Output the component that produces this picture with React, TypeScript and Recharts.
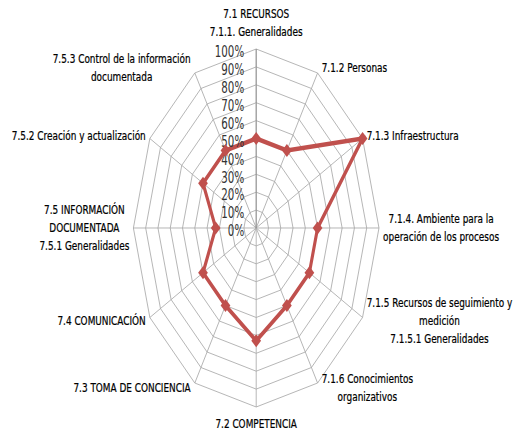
import { RadarChart, PolarGrid, PolarAngleAxis, PolarRadiusAxis, Radar } from "recharts";

// categories (line breaks as in the original labels)
const categories = [
  "7.1 RECURSOS\n7.1.1. Generalidades",
  "7.1.2 Personas",
  "7.1.3 Infraestructura",
  "7.1.4. Ambiente para la\noperación de los procesos",
  "7.1.5 Recursos de seguimiento y\nmedición\n7.1.5.1 Generalidades",
  "7.1.6 Conocimientos\norganizativos",
  "7.2 COMPETENCIA",
  "7.3 TOMA DE CONCIENCIA",
  "7.4 COMUNICACIÓN",
  "7.5 INFORMACIÓN\nDOCUMENTADA\n7.5.1 Generalidades",
  "7.5.2 Creación y actualización",
  "7.5.3 Control de la información\ndocumentada",
];
const cumplimiento = [50, 50, 100, 50, 50, 50, 63, 50, 50, 33, 50, 50];
const radiusTicks = [0, 10, 20, 30, 40, 50, 60, 70, 80, 90, 100];

const data = categories.map((c, i) => ({ cat: c, v: cumplimiento[i] }));

// the original picture is squeezed horizontally
const SX = 0.686;
const W = 518 / SX;
const H = 434;
const CX = 256.2 / SX;
const CY = 228;
const R = 179;
const FONT = "DejaVu Sans";
const LABEL_SIZE = 13;
const LH = 18;

let ctx: CanvasRenderingContext2D | null = null;
function textWidth(t: string) {
  if (!ctx) ctx = document.createElement("canvas").getContext("2d");
  if (!ctx) return t.length * 7;
  ctx.font = `${LABEL_SIZE}px "${FONT}"`;
  return ctx.measureText(t).width;
}

function AngleTick(props: any) {
  const i = props.index;
  const lines = String(props.payload.value).split("\n");
  const deg = i * 30;
  const rad = (deg * Math.PI) / 180;
  const vx = CX + R * Math.sin(rad);
  const vy = CY - R * Math.cos(rad);
  const blockW = Math.max(...lines.map(textWidth));
  const gap = 4 / SX;
  let x = vx;
  let ys: number[] = [];
  if (deg === 0) {
    ys = lines.map((_, k) => vy - 17 - (lines.length - 1 - k) * LH);
  } else if (deg === 180) {
    ys = lines.map((_, k) => vy + 17 + k * LH);
  } else {
    const yc = vy - 6 * Math.cos(rad);
    ys = lines.map((_, k) => yc + (k - (lines.length - 1) / 2) * LH);
    x = deg < 180 ? vx + gap + blockW / 2 : vx - gap - blockW / 2;
  }
  return (
    <g>
      {lines.map((l, k) => (
        <text
          key={k}
          x={x}
          y={ys[k]}
          textAnchor="middle"
          dominantBaseline="central"
          fontFamily={FONT}
          fontSize={LABEL_SIZE}
          fill="#000"
          stroke="#000"
          strokeWidth={0.25}
        >
          {l}
        </text>
      ))}
    </g>
  );
}

function RadiusTick(props: any) {
  return (
    <text
      x={CX - 12 / SX}
      y={props.y + 3}
      textAnchor="end"
      dominantBaseline="central"
      fontFamily={FONT}
      fontSize={15}
      fill="#333"
    >
      {`${props.payload.value}%`}
    </text>
  );
}

function Dot(props: any) {
  const { cx, cy } = props;
  const d = 6.5;
  return (
    <path
      d={`M${cx},${cy - d} L${cx + d / SX * 0.75},${cy} L${cx},${cy + d} L${cx - d / SX * 0.75},${cy} Z`}
      fill="#C0504D"
    />
  );
}

export default function App() {
  return (
    <div style={{ position: "absolute", left: 0, top: 0, width: 518, height: H, overflow: "hidden", background: "#fff" }}>
      <div style={{ width: W, height: H, transform: `scaleX(${SX})`, transformOrigin: "0 0" }}>
        <RadarChart width={W} height={H} data={data} cx={CX} cy={CY} outerRadius={R} margin={{ top: 0, right: 0, bottom: 0, left: 0 }}>
          <PolarGrid gridType="polygon" stroke="#a8a8a8" strokeWidth={1} />
          <PolarAngleAxis dataKey="cat" tick={<AngleTick />} tickLine={false} axisLine={false} />
          <PolarRadiusAxis
            angle={90}
            domain={[0, 100]}
            ticks={radiusTicks as any}
            tickCount={11}
            tick={<RadiusTick />}
            axisLine={{ stroke: "#8c8c8c" }}
            tickLine={false}
          />
          <Radar
            dataKey="v"
            stroke="#C0504D"
            strokeWidth={4.5}
            fill="none"
            fillOpacity={0}
            dot={<Dot />}
            isAnimationActive={false}
          />
        </RadarChart>
      </div>
    </div>
  );
}
